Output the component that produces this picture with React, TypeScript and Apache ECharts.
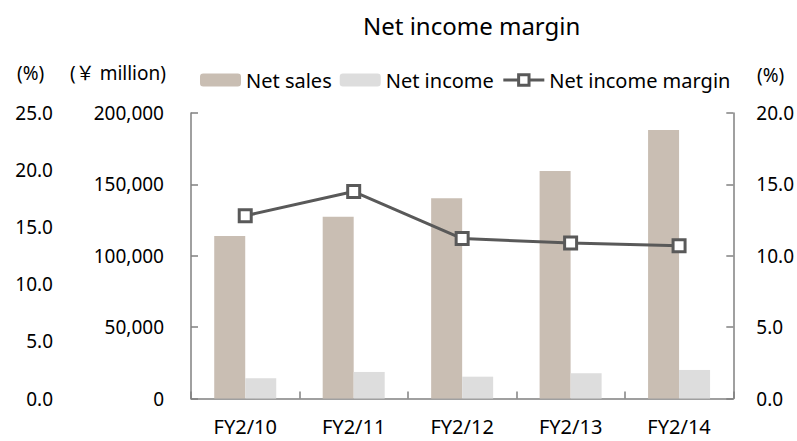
import React, { useEffect, useRef } from "react";
import * as echarts from "echarts";

const categories = ["FY2/10", "FY2/11", "FY2/12", "FY2/13", "FY2/14"];
const netSales = [113800, 127400, 140200, 159400, 188100];
const netIncome = [14200, 18600, 15300, 17700, 20000];
const netIncomeMargin = [12.8, 14.5, 11.2, 10.9, 10.7];

const FONT = "Noto Sans";
const AXIS_COLOR = "#808080";
const LINE_COLOR = "#595959";

export default function App() {
  const ref = useRef<HTMLDivElement>(null);
  useEffect(() => {
    if (!ref.current) return;
    const chart = echarts.init(ref.current, null, { renderer: "svg" });
    const tickLabel = { color: "#000", fontFamily: FONT, fontSize: 19 };
    chart.setOption({
      animation: false,
      backgroundColor: "#fff",
      textStyle: { fontFamily: FONT },
      graphic: [
        {
          type: "text",
          left: 363,
          top: 13,
          style: { text: "Net income margin", fontFamily: FONT, fontSize: 24, fill: "#000" },
        },
        {
          type: "text",
          left: 17,
          top: 63,
          style: { text: "(%)", fontFamily: FONT, fontSize: 19, fill: "#000" },
        },
        {
          type: "text",
          left: 70,
          top: 63,
          style: { text: "(￥ million)", fontFamily: "Noto Sans, Noto Sans CJK JP", fontSize: 19, fill: "#000" },
        },
        {
          type: "text",
          left: 757,
          top: 65,
          style: { text: "(%)", fontFamily: FONT, fontSize: 19, fill: "#000" },
        },
      ],
      legend: {
        left: 195,
        top: 65,
        itemWidth: 41,
        itemHeight: 13,
        itemGap: 8,
        textStyle: { color: "#000", fontFamily: FONT, fontSize: 20 },
        data: [
          { name: "Net sales" },
          { name: "Net income" },
          {
            name: "Net income margin",
            lineStyle: { color: LINE_COLOR, width: 3 },
            itemStyle: { color: "#fff", borderColor: LINE_COLOR, borderWidth: 3 },
          },
        ],
      },
      grid: { left: 191, right: 63, top: 113, bottom: 42.5 },
      xAxis: {
        type: "category",
        data: categories,
        boundaryGap: true,
        axisLine: { lineStyle: { color: AXIS_COLOR, width: 1.5 } },
        axisTick: { show: true, inside: true, length: 7, alignWithLabel: false, lineStyle: { color: AXIS_COLOR, width: 1.5 } },
        axisLabel: { ...tickLabel, fontSize: 20, margin: 18 },
      },
      yAxis: [
        {
          type: "value",
          position: "left",
          min: 0,
          max: 200000,
          interval: 50000,
          splitLine: { show: false },
          axisLine: { show: true, lineStyle: { color: AXIS_COLOR, width: 1.5 } },
          axisTick: { show: true, inside: true, length: 7, lineStyle: { color: AXIS_COLOR, width: 1.5 } },
          axisLabel: {
            ...tickLabel,
            margin: 27,
            formatter: (v: number) => v.toLocaleString("en-US"),
          },
        },
        {
          type: "value",
          position: "right",
          min: 0,
          max: 20,
          interval: 5,
          splitLine: { show: false },
          axisLine: { show: true, lineStyle: { color: AXIS_COLOR, width: 1.5 } },
          axisTick: { show: true, inside: true, length: 7, lineStyle: { color: AXIS_COLOR, width: 1.5 } },
          axisLabel: { ...tickLabel, margin: 23, formatter: (v: number) => v.toFixed(1) },
        },
        {
          type: "value",
          position: "left",
          offset: 130,
          min: 0,
          max: 25,
          interval: 5,
          splitLine: { show: false },
          axisLine: { show: false },
          axisTick: { show: false },
          axisLabel: { ...tickLabel, margin: 8, formatter: (v: number) => v.toFixed(1) },
        },
      ],
      series: [
        {
          name: "Net sales",
          type: "bar",
          yAxisIndex: 0,
          data: netSales,
          barWidth: 31,
          barGap: "0%",
          itemStyle: { color: "#C9BEB3" },
        },
        {
          name: "Net income",
          type: "bar",
          yAxisIndex: 0,
          data: netIncome,
          barWidth: 31,
          barGap: "0%",
          itemStyle: { color: "#DDDDDD" },
        },
        {
          name: "Net income margin",
          type: "line",
          yAxisIndex: 1,
          data: netIncomeMargin,
          symbol: "rect",
          symbolSize: 12,
          lineStyle: { color: LINE_COLOR, width: 3 },
          itemStyle: { color: "#fff", borderColor: LINE_COLOR, borderWidth: 3 },
          z: 5,
        },
      ],
    });
    return () => chart.dispose();
  }, []);
  return (
    <div
      ref={ref}
      style={{ position: "absolute", left: 0, top: 0, width: 797, height: 441 }}
    />
  );
}
